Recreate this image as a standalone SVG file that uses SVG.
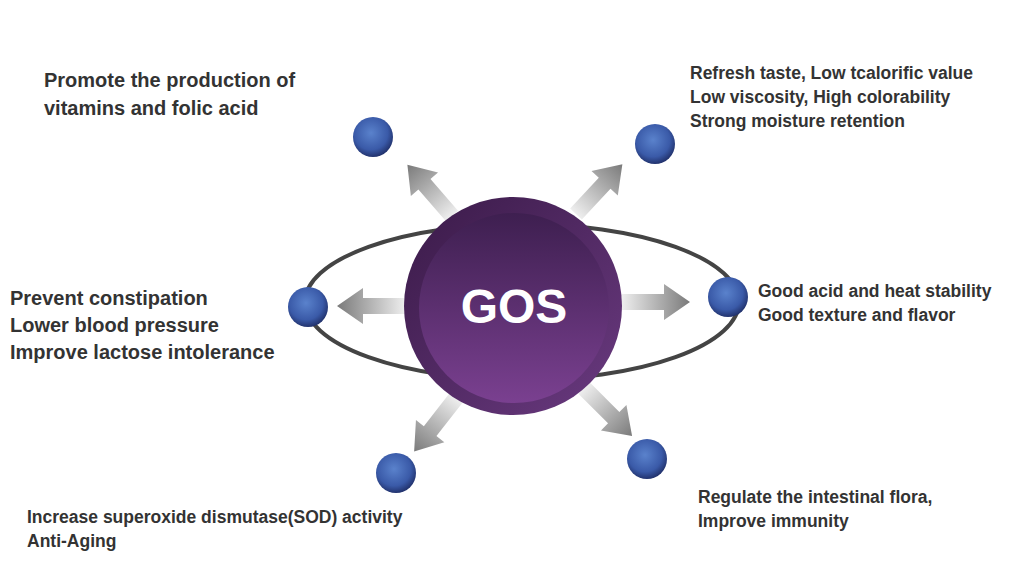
<svg xmlns="http://www.w3.org/2000/svg" width="1024" height="583" viewBox="0 0 1024 583">
<defs>
<linearGradient id="ag" x1="0" y1="0" x2="1" y2="0"><stop offset="0" stop-color="#eeeeee"/><stop offset="1" stop-color="#7a7a7a"/></linearGradient>
<radialGradient id="dot" cx="0.45" cy="0.4" r="0.6"><stop offset="0" stop-color="#5a82cc"/><stop offset="0.7" stop-color="#3a5aa8"/><stop offset="1" stop-color="#22336e"/></radialGradient>
<linearGradient id="outer" x1="0" y1="0" x2="1" y2="1"><stop offset="0" stop-color="#3a1a48"/><stop offset="1" stop-color="#6a3a80"/></linearGradient>
<linearGradient id="inner" x1="0" y1="0" x2="0" y2="1"><stop offset="0" stop-color="#3e1f50"/><stop offset="1" stop-color="#7a4090"/></linearGradient>
<polygon id="arr" points="0,-8 42,-8 42,-18 68,0 42,18 42,8 0,8" fill="url(#ag)"/>
</defs>
<style>
text{font-family:"Liberation Sans",Arial,sans-serif;font-weight:bold;fill:#333}
.b{font-size:20px}.s{font-size:17.5px}
.d{fill:url(#dot)}
</style>
<rect width="1024" height="583" fill="#fff"/>
<g id="connectors">
<ellipse cx="522" cy="302" rx="217" ry="78" fill="none" stroke="#444" stroke-width="4"/>
<use href="#arr" transform="translate(405,306) rotate(180)"/>
<use href="#arr" transform="translate(622,302)"/>
<use href="#arr" transform="translate(452,216) rotate(-131)"/>
<use href="#arr" transform="translate(576,214) rotate(-47)"/>
<use href="#arr" transform="translate(456,398) rotate(128)"/>
<use href="#arr" transform="translate(584,388) rotate(45)"/>
</g>
<g id="gos">
<circle cx="513" cy="306" r="109" fill="url(#outer)"/>
<circle cx="514" cy="308" r="95" fill="url(#inner)"/>
<text x="514" y="323" text-anchor="middle" style="font-size:48px;fill:#fff">GOS</text>
</g>
<g id="n1"><circle class="d" cx="373" cy="137" r="20"/>
<text class="b" x="44" y="87">Promote the production of</text><text class="b" x="44" y="115">vitamins and folic acid</text></g>
<g id="n2"><circle class="d" cx="655" cy="144" r="20"/>
<text class="s" x="690" y="79">Refresh taste, Low tcalorific value</text><text class="s" x="690" y="103">Low viscosity, High colorability</text><text class="s" x="690" y="127">Strong moisture retention</text></g>
<g id="n3"><circle class="d" cx="308" cy="307" r="20"/>
<text class="b" x="10" y="305">Prevent constipation</text><text class="b" x="10" y="332">Lower blood pressure</text><text class="b" x="10" y="359">Improve lactose intolerance</text></g>
<g id="n4"><circle class="d" cx="728" cy="297" r="20"/>
<text class="s" x="758" y="297">Good acid and heat stability</text><text class="s" x="758" y="321">Good texture and flavor</text></g>
<g id="n5"><circle class="d" cx="396" cy="473" r="20"/>
<text class="s" x="27" y="523">Increase superoxide dismutase(SOD) activity</text><text class="s" x="27" y="547">Anti-Aging</text></g>
<g id="n6"><circle class="d" cx="647" cy="459" r="20"/>
<text class="s" x="698" y="503">Regulate the intestinal flora,</text><text class="s" x="698" y="527">Improve immunity</text></g>
</svg>
